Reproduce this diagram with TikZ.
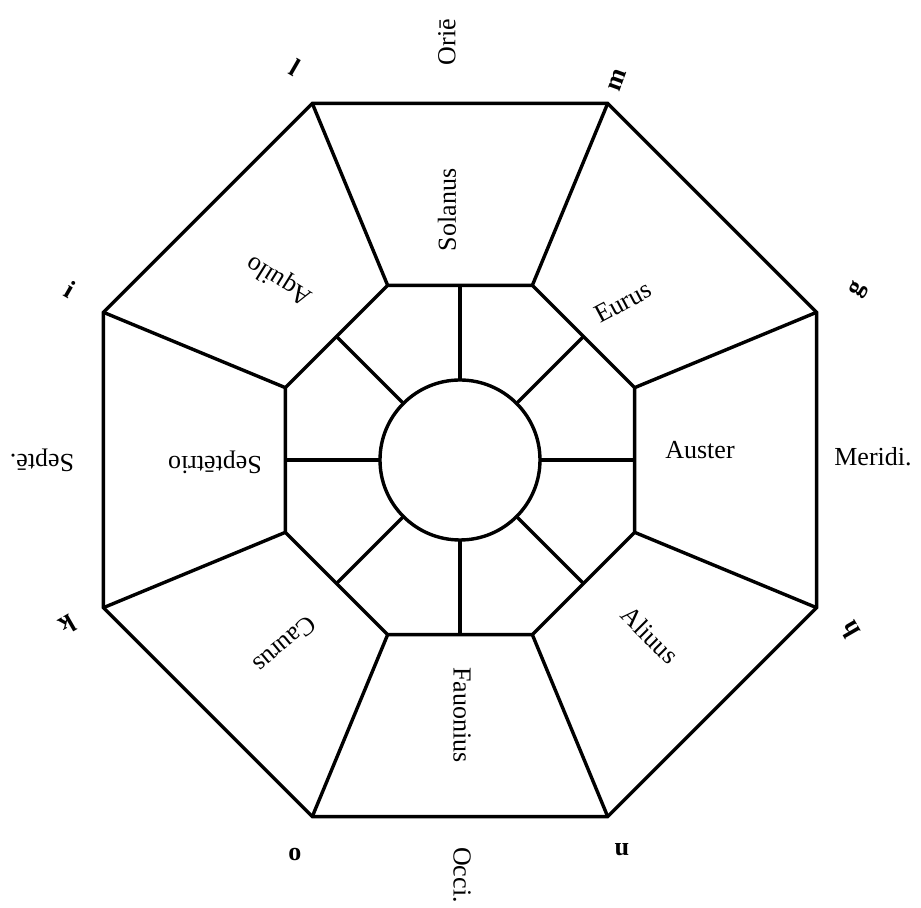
\documentclass[tikz,border=0pt]{standalone}
\usepackage{fontspec}
\setmainfont{Liberation Serif}
\begin{document}
\begin{tikzpicture}[x=0.5pt, y=0.5pt, line width=1.7pt,
    wind/.style={font=\fontsize{13}{15}\selectfont},
    quarter/.style={font=\fontsize{13}{15}\selectfont},
    mark letter/.style={font=\fontsize{13}{15}\selectfont\bfseries}]
  \useasboundingbox (-460, 460) rectangle (461, -448);
  % corners of the two octagons, ends of the spokes
  \foreach \i in {0,...,7} {
    \coordinate (o\i) at ({22.5+45*\i}:386);
    \coordinate (m\i) at ({22.5+45*\i}:189);
    \coordinate (c\i) at ({45*\i}:80);
    \coordinate (e\i) at ({45*\i}:175);
  }
  \coordinate (C) at (0, 0);
  \draw (o0) -- (o1) -- (o2) -- (o3) -- (o4) -- (o5) -- (o6) -- (o7) -- cycle;
  \draw (m0) -- (m1) -- (m2) -- (m3) -- (m4) -- (m5) -- (m6) -- (m7) -- cycle;
  \foreach \i in {0,...,7} {
    \draw (o\i) -- (m\i);
    \draw (c\i) -- (e\i);
  }
  \draw (C) circle (80);
  % winds
  \node[wind, rotate=90] (solanus) at (-13, 250) {Solanus};
  \node[wind, rotate=28] (eurus) at (163, 158) {Eurus};
  \node[wind] (auster) at (240, 10) {Auster};
  \node[wind, rotate=-45] (africus) at (190, -175) {Aliuus};
  \node[wind, rotate=-90] (fauonius) at (2, -255) {Fauonius};
  \node[wind, rotate=220] (caurus) at (-175, -185) {Caurus};
  \node[wind, rotate=180] (septentrio) at (-245, -2) {Septētrio};
  \node[wind, rotate=148] (aquilo) at (-180, 180) {Aquilo};
  % quarters
  \node[quarter, rotate=90] (oriens) at (-13, 418) {Oriē};
  \node[quarter] (meridies) at (413, 3) {Meridi.};
  \node[quarter, rotate=-90] (occidens) at (2, -415) {Occi.};
  \node[quarter, rotate=180] (septem) at (-418, 0) {Septē.};
  % letters at the corners
  \node[mark letter, rotate=60] (g) at (398, 170) {g};
  \node[mark letter, rotate=120] (h) at (390, -170) {h};
  \node[mark letter, rotate=-30] (i) at (-390, 170) {i};
  \node[mark letter, rotate=210] (k) at (-392, -165) {k};
  \node[mark letter, rotate=-30] (l) at (-165, 392) {l};
  \node[mark letter, rotate=70] (m) at (157, 380) {m};
  \node[mark letter, rotate=180] (n) at (162, -390) {n};
  \node[mark letter] (o) at (-165, -395) {o};
\end{tikzpicture}
\end{document}
